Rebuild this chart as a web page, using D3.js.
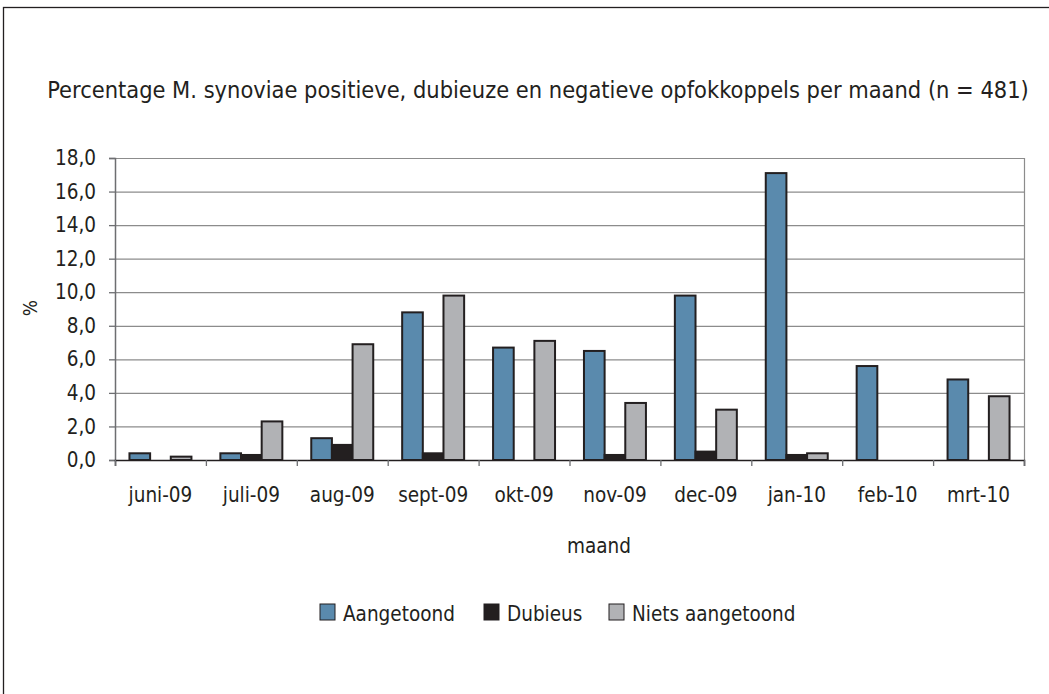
<!DOCTYPE html>
<html>
<head>
<meta charset="utf-8">
<script src="https://cdn.jsdelivr.net/npm/d3@7"></script>
<style>
  body { margin: 0; background: #fff; }
  text { font-family: "DejaVu Sans Condensed", "DejaVu Sans", sans-serif; fill: #231f20; }
</style>
</head>
<body>
<div id="chart"></div>
<script>
// months on the x axis
var months = ["juni-09", "juli-09", "aug-09", "sept-09", "okt-09", "nov-09", "dec-09", "jan-10", "feb-10", "mrt-10"];
// series names
var seriesNames = ["Aangetoond", "Dubieus", "Niets aangetoond"];
// percentages per month
var aangetoond = [0.4, 0.4, 1.3, 8.8, 6.7, 6.5, 9.8, 17.1, 5.6, 4.8];
var dubieus = [0.0, 0.3, 0.9, 0.4, 0.0, 0.3, 0.5, 0.3, 0.0, 0.0];
var nietsAangetoond = [0.2, 2.3, 6.9, 9.8, 7.1, 3.4, 3.0, 0.4, 0.0, 3.8];
var yTicks = [0, 2, 4, 6, 8, 10, 12, 14, 16, 18];

var colors = ["#5a8aad", "#231f20", "#b1b2b5"];

var w = 1049;
var h = 694;
var plotLeft = 115, plotRight = 1024, plotTop = 158, plotBottom = 460;

var svg = d3.select("#chart").append("svg")
    .attr("width", w)
    .attr("height", h);

// outer frame (runs off the right and bottom edges)
svg.append("rect")
    .attr("x", 3.5).attr("y", 7.5)
    .attr("width", w + 10).attr("height", h + 10)
    .attr("fill", "none")
    .attr("stroke", "#231f20")
    .attr("stroke-width", 1.3);

var x0 = d3.scaleBand().domain(months).range([plotLeft, plotRight]).padding(0);
var x1 = d3.scaleBand().domain(seriesNames).range([0, x0.bandwidth()])
    .paddingInner(0).paddingOuter(0.7);
var y = d3.scaleLinear().domain([0, 18]).range([plotBottom, plotTop]);

// gridlines
svg.append("g")
    .selectAll("line")
    .data(yTicks.slice(1))
    .enter().append("line")
    .attr("x1", plotLeft).attr("x2", plotRight)
    .attr("y1", d => y(d) + 0.5).attr("y2", d => y(d) + 0.5)
    .attr("stroke", "#8c8c8c")
    .attr("stroke-width", 1.2);

// right border of plot area
svg.append("line")
    .attr("x1", plotRight + 0.5).attr("x2", plotRight + 0.5)
    .attr("y1", plotTop).attr("y2", plotBottom)
    .attr("stroke", "#8c8c8c")
    .attr("stroke-width", 1.2);

// bars
var table = months.map(function(m, i) {
    return { month: m, values: [aangetoond[i], dubieus[i], nietsAangetoond[i]] };
});

var groups = svg.append("g")
    .selectAll("g")
    .data(table)
    .enter().append("g")
    .attr("transform", d => "translate(" + x0(d.month) + ",0)");

groups.selectAll("rect")
    .data(d => d.values.map((v, j) => ({ key: seriesNames[j], value: v, j: j })).filter(d => d.value > 0))
    .enter().append("rect")
    .attr("x", d => x1(d.key))
    .attr("y", d => y(d.value))
    .attr("width", x1.bandwidth())
    .attr("height", d => y(0) - y(d.value))
    .attr("fill", d => colors[d.j])
    .attr("stroke", "#231f20")
    .attr("stroke-width", 2);

// y axis
var yAxis = d3.axisLeft(y)
    .tickValues(yTicks)
    .tickSize(6)
    .tickPadding(13)
    .tickFormat(d => d.toFixed(1).replace(".", ","));

var gy = svg.append("g")
    .attr("transform", "translate(" + plotLeft + ",0)")
    .call(yAxis);
gy.select(".domain").attr("stroke", "#6d6e71").attr("stroke-width", 1.5);
gy.selectAll(".tick line").attr("stroke", "#6d6e71").attr("stroke-width", 1.3);
gy.selectAll("text").attr("font-size", 20.5).style("font-family", "DejaVu Sans Condensed").attr("fill", "#231f20");

// x axis: ticks at category boundaries
var xb = d3.scaleLinear().domain([0, months.length]).range([plotLeft, plotRight]);
var gx = svg.append("g")
    .attr("transform", "translate(0," + plotBottom + ")")
    .call(d3.axisBottom(xb).tickValues(d3.range(0, months.length + 1)).tickSize(6).tickFormat(""));
gx.select(".domain").attr("stroke", "#231f20").attr("stroke-width", 1.5);
gx.selectAll(".tick line").attr("stroke", "#6d6e71").attr("stroke-width", 1.3);

var gxl = svg.append("g")
    .attr("transform", "translate(0," + plotBottom + ")")
    .call(d3.axisBottom(x0).tickSize(0).tickPadding(27));
gxl.select(".domain").remove();
gxl.selectAll("text").attr("font-size", 20.5)
    .style("font-family", "DejaVu Sans Condensed").attr("fill", "#231f20");

// title
svg.append("text")
    .attr("x", 538)
    .attr("y", 98)
    .attr("text-anchor", "middle")
    .attr("font-size", 23.4)
    .text("Percentage M. synoviae positieve, dubieuze en negatieve opfokkoppels per maand (n = 481)");

// axis titles
svg.append("text")
    .attr("x", 599)
    .attr("y", 553)
    .attr("text-anchor", "middle")
    .attr("font-size", 20.5)
    .text("maand");

svg.append("text")
    .attr("transform", "translate(37,308) rotate(-90)")
    .attr("text-anchor", "middle")
    .attr("font-size", 19)
    .text("%");

// legend
var legendX = [320, 484, 609];
var legend = svg.append("g");
seriesNames.forEach(function(name, i) {
    legend.append("rect")
        .attr("x", legendX[i]).attr("y", 604)
        .attr("width", 15).attr("height", 16)
        .attr("fill", colors[i])
        .attr("stroke", "#231f20")
        .attr("stroke-width", 1);
    legend.append("text")
        .attr("x", legendX[i] + 23)
        .attr("y", 621)
        .attr("font-size", 20.5)
        .text(name);
});
</script>
</body>
</html>
